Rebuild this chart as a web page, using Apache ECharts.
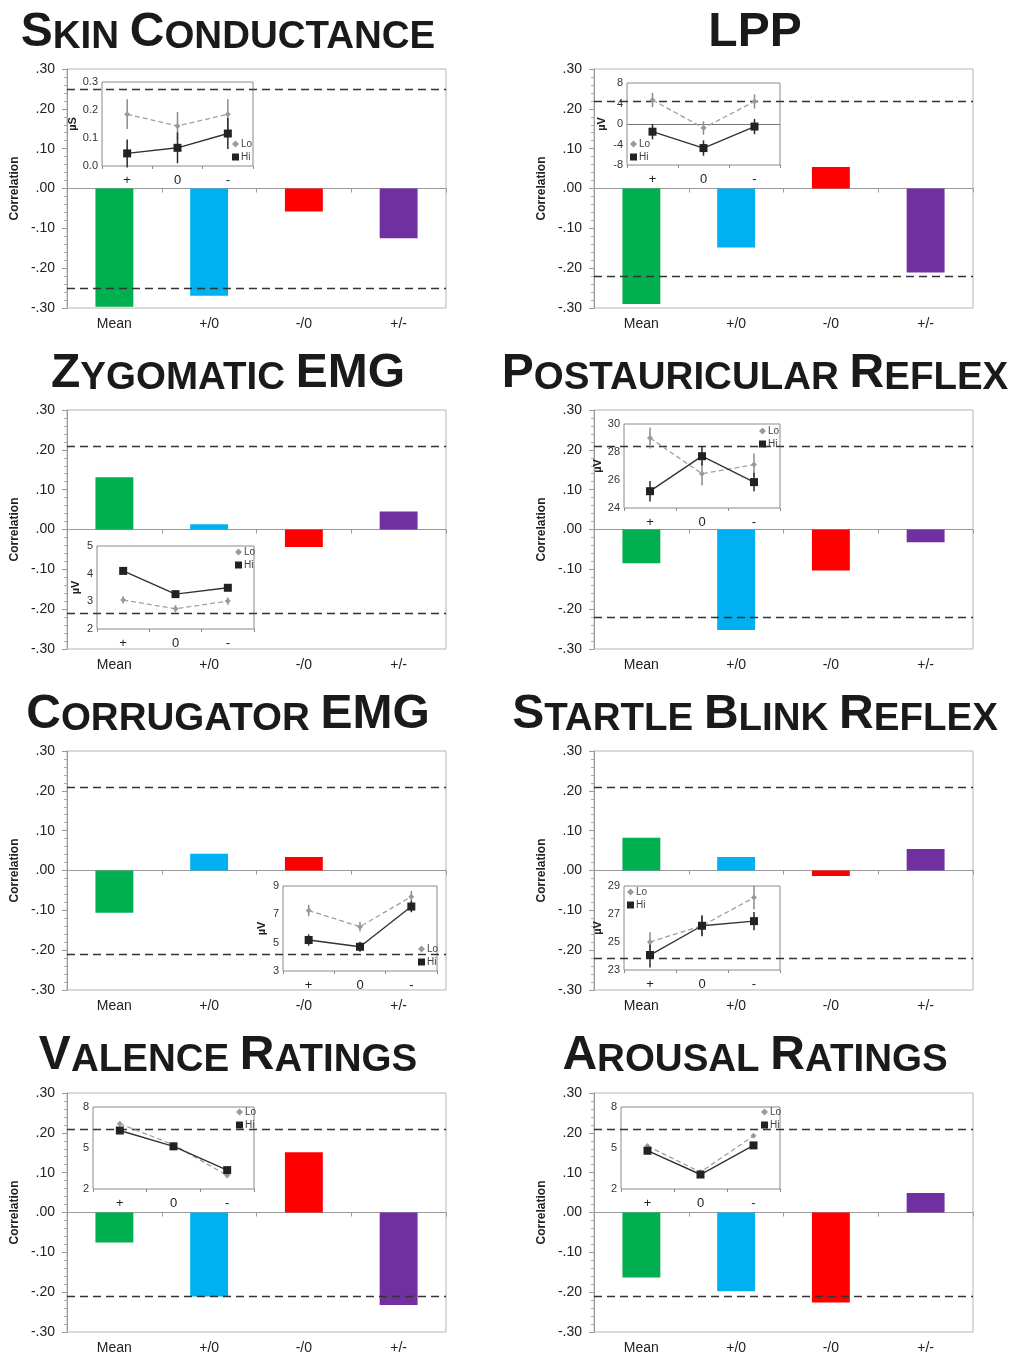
<!DOCTYPE html>
<html><head><meta charset="utf-8">
<script src="https://cdn.jsdelivr.net/npm/echarts@6/dist/echarts.min.js"></script>
<style>html,body{margin:0;padding:0;background:#fff}#c{width:1021px;height:1357px}</style>
</head><body><div id="c"></div>
<script>
// ---------- DATA ----------
const categories = ['Mean', '+/0', '-/0', '+/-'];
const insetCategories = ['+', '0', '-'];
const panelTitles = [
  '{b|S}{s|KIN }{b|C}{s|ONDUCTANCE}',
  '{b|LPP}',
  '{b|Z}{s|YGOMATIC }{b|EMG}',
  '{b|P}{s|OSTAURICULAR }{b|R}{s|EFLEX}',
  '{b|C}{s|ORRUGATOR }{b|EMG}',
  '{b|S}{s|TARTLE }{b|B}{s|LINK }{b|R}{s|EFLEX}',
  '{b|V}{s|ALENCE }{b|R}{s|ATINGS}',
  '{b|A}{s|ROUSAL }{b|R}{s|ATINGS}'
];
const yAxisName = 'Correlation';
const mainTicks = [-0.3, -0.2, -0.1, 0, 0.1, 0.2, 0.3];
const insetUnits = ['µS', 'µV', 'µV', 'µV', 'µV', 'µV', '', ''];
const seriesNames = ['Lo', 'Hi'];

// Skin conductance
const skinBars = [-0.297, -0.269, -0.058, -0.125];
const skinCrit = [0.248, -0.247];
const skinTicks = [0, 0.1, 0.2, 0.3];
const skinLo = [0.185, 0.143, 0.185];
const skinLoErr = [0.053, 0.05, 0.053];
const skinHi = [0.045, 0.065, 0.116];
const skinHiErr = [0.05, 0.055, 0.055];
// LPP
const lppBars = [-0.29, -0.148, 0.054, -0.211];
const lppCrit = [0.222, -0.223];
const lppTicks = [-8, -4, 0, 4, 8];
const lppLo = [4.7, -0.8, 4.4];
const lppLoErr = [1.4, 1.3, 1.4];
const lppHi = [-1.5, -4.7, -0.5];
const lppHiErr = [1.5, 1.5, 1.5];
// Zygomatic EMG
const zygBars = [0.131, 0.013, -0.044, 0.045];
const zygCrit = [0.21, -0.212];
const zygTicks = [2, 3, 4, 5];
const zygLo = [3.05, 2.73, 3.01];
const zygLoErr = [0.13, 0.13, 0.13];
const zygHi = [4.1, 3.26, 3.49];
const zygHiErr = [0.1, 0.1, 0.1];
// Postauricular reflex
const postBars = [-0.085, -0.252, -0.103, -0.032];
const postCrit = [0.215, -0.218];
const postTicks = [24, 26, 28, 30];
const postLo = [29.0, 26.45, 27.1];
const postLoErr = [0.75, 0.85, 0.8];
const postHi = [25.2, 27.7, 25.85];
const postHiErr = [0.73, 0.66, 0.66];
// Corrugator EMG
const corrBars = [-0.106, 0.042, 0.034, 0];
const corrCrit = [0.211, -0.214];
const corrTicks = [3, 5, 7, 9];
const corrLo = [7.27, 6.13, 8.25];
const corrLoErr = [0.4, 0.35, 0.4];
const corrHi = [5.19, 4.71, 7.55];
const corrHiErr = [0.4, 0.35, 0.4];
// Startle blink reflex
const startleBars = [0.082, 0.034, -0.014, 0.054];
const startleCrit = [0.215, -0.216];
const startleTicks = [23, 25, 27, 29];
const startleLo = [25.0, 26.16, 28.17];
const startleLoErr = [0.7, 0.7, 0.85];
const startleHi = [24.07, 26.16, 26.49];
const startleHiErr = [0.9, 0.75, 0.65];
// Valence ratings
const valBars = [-0.075, -0.211, 0.151, -0.232];
const valCrit = [0.212, -0.212];
const valTicks = [2, 5, 8];
const valLo = [6.77, 5.24, 2.99];
const valLoErr = [0.1, 0.1, 0.1];
const valHi = [6.28, 5.12, 3.38];
const valHiErr = [0.1, 0.1, 0.1];
// Arousal ratings
const arBars = [-0.163, -0.198, -0.226, 0.049];
const arCrit = [0.21, -0.213];
const arTicks = [2, 5, 8];
const arLo = [5.14, 3.23, 5.89];
const arLoErr = [0.1, 0.1, 0.1];
const arHi = [4.8, 3.06, 5.19];
const arHiErr = [0.1, 0.1, 0.1];

const panels = [
  {bars: skinBars, crit: skinCrit, ticks: skinTicks, lo: skinLo, loErr: skinLoErr, hi: skinHi, hiErr: skinHiErr},
  {bars: lppBars, crit: lppCrit, ticks: lppTicks, lo: lppLo, loErr: lppLoErr, hi: lppHi, hiErr: lppHiErr, zero: true},
  {bars: zygBars, crit: zygCrit, ticks: zygTicks, lo: zygLo, loErr: zygLoErr, hi: zygHi, hiErr: zygHiErr},
  {bars: postBars, crit: postCrit, ticks: postTicks, lo: postLo, loErr: postLoErr, hi: postHi, hiErr: postHiErr},
  {bars: corrBars, crit: corrCrit, ticks: corrTicks, lo: corrLo, loErr: corrLoErr, hi: corrHi, hiErr: corrHiErr},
  {bars: startleBars, crit: startleCrit, ticks: startleTicks, lo: startleLo, loErr: startleLoErr, hi: startleHi, hiErr: startleHiErr},
  {bars: valBars, crit: valCrit, ticks: valTicks, lo: valLo, loErr: valLoErr, hi: valHi, hiErr: valHiErr},
  {bars: arBars, crit: arCrit, ticks: arTicks, lo: arLo, loErr: arLoErr, hi: arHi, hiErr: arHiErr}
];

// ---------- LAYOUT / STYLE ----------
const FONT = 'Liberation Sans, Arial, sans-serif';
const barColors = ['#00B050', '#00B0F0', '#FF0000', '#7030A0'];
const colLeft = [67, 594];
const colCenter = [228, 755];
const rowTop = [69, 410, 751, 1093];
const titleTop = [1, 342, 683, 1024];
const insetLayout = [
  {left: 102, top: 82, width: 151, height: 84, interval: 0.1, dec: 1, gap: 23, legend: [232, 139]},
  {left: 627, top: 83, width: 153, height: 82, interval: 4, dec: 0, gap: 20, legend: [630, 139]},
  {left: 97, top: 546, width: 157, height: 83, interval: 1, dec: 0, gap: 16, legend: [235, 547]},
  {left: 624, top: 424, width: 156, height: 84, interval: 2, dec: 0, gap: 19, legend: [759, 426]},
  {left: 283, top: 886, width: 154, height: 85, interval: 1, dec: 0, gap: 16, legend: [418, 944]},
  {left: 624, top: 886, width: 156, height: 84, interval: 1, dec: 0, gap: 19, legend: [627, 887]},
  {left: 93, top: 1107, width: 161, height: 82, interval: 1, dec: 0, gap: 16, legend: [236, 1107]},
  {left: 621, top: 1107, width: 159, height: 82, interval: 1, dec: 0, gap: 16, legend: [761, 1107]}
];

const grid = [], xAxis = [], yAxis = [], series = [], legend = [], graphic = [];

function errRender(color) {
  return function (params, api) {
    const x = api.value(0);
    const p1 = api.coord([x, api.value(1)]);
    const p2 = api.coord([x, api.value(2)]);
    return {type: 'line', shape: {x1: p1[0], y1: p1[1], x2: p2[0], y2: p2[1]},
      style: {stroke: color, lineWidth: 1.5}};
  };
}

panels.forEach((p, i) => {
  const col = i % 2, row = Math.floor(i / 2);
  const L = insetLayout[i];
  grid.push({left: colLeft[col], top: rowTop[row], width: 379, height: 239, show: true,
    borderColor: '#b5b5b5', borderWidth: 1, backgroundColor: 'transparent', outerBoundsMode: 'none'});
  grid.push({left: L.left, top: L.top, width: L.width, height: L.height, show: true, z: 3,
    borderColor: '#8a8a8a', borderWidth: 1, backgroundColor: '#fff', outerBoundsMode: 'none'});
  const gMain = 2 * i, gIn = 2 * i + 1;
  xAxis.push({type: 'category', gridIndex: gMain, data: categories, position: 'bottom',
    axisLine: {show: false, onZero: false}, axisTick: {show: false},
    axisLabel: {fontSize: 14, color: '#222', fontFamily: FONT, margin: 9}});
  xAxis.push({type: 'category', gridIndex: gMain, data: categories, position: 'top',
    axisLine: {show: true, onZero: true, lineStyle: {color: '#9a9a9a', width: 1}},
    axisTick: {show: true, inside: true, length: 4, lineStyle: {color: '#9a9a9a'}},
    axisLabel: {show: false}});
  xAxis.push({type: 'category', gridIndex: gIn, data: insetCategories, position: 'bottom', z: 4,
    axisLine: {show: false, onZero: false},
    axisTick: {show: true, length: 3, lineStyle: {color: '#888'}},
    axisLabel: {fontSize: 13, color: '#222', fontFamily: FONT, margin: 8}});
  yAxis.push({type: 'value', gridIndex: gMain, min: mainTicks[0], max: mainTicks[mainTicks.length - 1], interval: 0.1,
    name: yAxisName, nameLocation: 'middle', nameGap: 46,
    nameTextStyle: {fontSize: 12, fontWeight: 'bold', color: '#222', fontFamily: FONT},
    axisLine: {show: true, lineStyle: {color: '#9a9a9a'}},
    axisTick: {show: true, length: 5, lineStyle: {color: '#9a9a9a'}},
    minorTick: {show: true, splitNumber: 5, length: 3, lineStyle: {color: '#aaa'}},
    splitLine: {show: false},
    axisLabel: {fontSize: 14, color: '#222', fontFamily: FONT, margin: 12,
      formatter: v => v.toFixed(2).replace('0.', '.')}});
  const tk = p.ticks;
  yAxis.push({type: 'value', gridIndex: gIn, min: tk[0], max: tk[tk.length - 1], interval: L.interval, z: 4,
    name: insetUnits[i], nameLocation: 'middle', nameGap: L.gap,
    nameTextStyle: {fontSize: 11, fontWeight: 'bold', color: '#222', fontFamily: FONT},
    axisLine: {show: false}, axisTick: {show: false}, splitLine: {show: false},
    axisLabel: {fontSize: 11, color: '#333', fontFamily: FONT, margin: 4,
      formatter: v => tk.some(t => Math.abs(t - v) < 1e-6) ? v.toFixed(L.dec) : ''}});
  series.push({type: 'bar', name: 'Correlation', xAxisIndex: 3 * i, yAxisIndex: 2 * i, z: 1,
    barWidth: '40%', animation: false, silent: true,
    data: p.bars.map((v, k) => ({value: v, itemStyle: {color: barColors[k]}})),
    markLine: {silent: true, symbol: ['none', 'none'], label: {show: false}, animation: false,
      lineStyle: {type: [8, 5], color: '#333', width: 1.3},
      data: p.crit.map(c => ({yAxis: c}))}});
  series.push({type: 'custom', xAxisIndex: 3 * i + 2, yAxisIndex: 2 * i + 1, z: 5, animation: false, silent: true,
    renderItem: errRender('#8c8c8c'),
    data: p.lo.map((v, k) => [k, v - p.loErr[k], v + p.loErr[k]])});
  series.push({type: 'custom', xAxisIndex: 3 * i + 2, yAxisIndex: 2 * i + 1, z: 5, animation: false, silent: true,
    renderItem: errRender('#2a2a2a'),
    data: p.hi.map((v, k) => [k, v - p.hiErr[k], v + p.hiErr[k]])});
  const loSeries = {type: 'line', name: seriesNames[0], xAxisIndex: 3 * i + 2, yAxisIndex: 2 * i + 1, z: 6,
    animation: false, silent: true, data: p.lo, symbol: 'diamond', symbolSize: 6,
    itemStyle: {color: '#9a9a9a'}, lineStyle: {color: '#a0a0a0', width: 1.3, type: [5, 3]}};
  if (p.zero) {
    loSeries.markLine = {silent: true, symbol: ['none', 'none'], label: {show: false}, animation: false,
      lineStyle: {type: 'solid', color: '#777', width: 1}, data: [{yAxis: 0}]};
  }
  series.push(loSeries);
  series.push({type: 'line', name: seriesNames[1], xAxisIndex: 3 * i + 2, yAxisIndex: 2 * i + 1, z: 7,
    animation: false, silent: true, data: p.hi, symbol: 'rect', symbolSize: 8,
    itemStyle: {color: '#222'}, lineStyle: {color: '#333', width: 1.4}});
  legend.push({left: L.legend[0], top: L.legend[1], orient: 'vertical', padding: 0, itemGap: 3,
    itemWidth: 7, itemHeight: 7, selectedMode: false, z: 8,
    textStyle: {fontSize: 10, color: '#444', fontFamily: FONT, padding: [0, 0, 0, -3]},
    data: [{name: seriesNames[0], icon: 'diamond'}, {name: seriesNames[1], icon: 'rect'}]});
  graphic.push({type: 'text', x: colCenter[col], y: titleTop[row], z: 10,
    style: {text: panelTitles[i], align: 'center', verticalAlign: 'top', fill: '#1a1a1a',
      rich: {
        b: {fontSize: 48, fontWeight: 'bold', fontFamily: FONT, lineHeight: 56, verticalAlign: 'bottom', fill: '#1a1a1a'},
        s: {fontSize: 38.5, fontWeight: 'bold', fontFamily: FONT, lineHeight: 49, verticalAlign: 'bottom', fill: '#1a1a1a'}
      }}});
});

const chart = echarts.init(document.getElementById('c'), null, {renderer: 'canvas'});
chart.setOption({backgroundColor: '#fff', animation: false, grid, xAxis, yAxis, series, legend, graphic});
</script>
</body></html>
